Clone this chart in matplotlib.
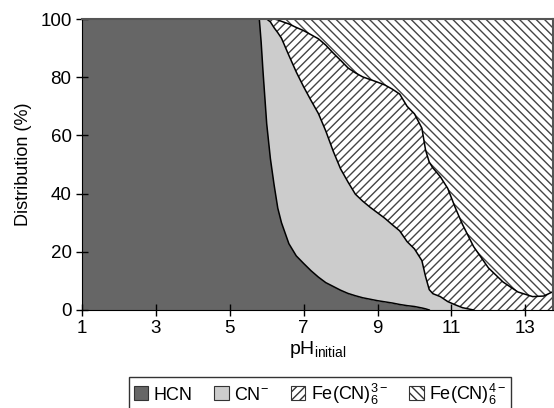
import numpy as np
import matplotlib.pyplot as plt
from matplotlib.patches import Patch

plt.rcParams['font.family'] = ['Liberation Sans', 'DejaVu Sans']
plt.rcParams['mathtext.fontset'] = 'custom'
plt.rcParams['mathtext.rm'] = 'Liberation Sans'
plt.rcParams['mathtext.it'] = 'Liberation Sans:italic'
plt.rcParams['hatch.linewidth'] = 1.0

# pH grid and species distribution (%)
ph = [1, 5.8, 5.85, 5.9, 6.0, 6.1, 6.2, 6.3, 6.4, 6.6, 6.8, 7.0, 7.2, 7.4, 7.6, 7.8,
      8.0, 8.2, 8.4, 8.6, 8.8, 9.0, 9.2, 9.4, 9.6, 9.8, 10.0, 10.2, 10.3, 10.4, 10.5,
      10.7, 10.9, 11.1, 11.3, 11.6, 12.0, 12.4, 12.8, 13.2, 13.5, 13.75]
hcn = [100, 100, 92, 82, 64, 52, 43, 35, 30, 22.8, 18.6, 16, 13.5, 11.3, 9.4, 8.1,
       6.8, 5.7, 4.9, 4.2, 3.7, 3.2, 2.8, 2.4, 1.9, 1.5, 1.2, 0.7, 0.4, 0, 0,
       0, 0, 0, 0, 0, 0, 0, 0, 0, 0, 0]
cn = [0, 0, 8, 18, 36, 47, 54, 60.3, 63.4, 64.7, 63.2, 60.7, 58.5, 56.2, 52.1, 46.5,
      41.7, 38.3, 34.9, 33.2, 31.6, 30.2, 28.7, 26.9, 25.3, 22, 19.8, 16.3, 11.1, 7, 5.6,
      4.6, 2.9, 1.8, 0.8, 0, 0, 0, 0, 0, 0, 0]
fe3 = [0, 0, 0, 0, 0, 1, 3, 4.4, 5.8, 10.8, 15.3, 19.3, 22.6, 25.7, 29.5, 33.7,
       37.3, 39.2, 41.7, 42.7, 43.9, 44.9, 45.8, 46.6, 47, 46.5, 46.4, 45.5, 43.5, 43.8, 43.2,
       41.2, 38.9, 33.5, 28.6, 21.8, 14.5, 9.6, 6.2, 4.6, 4.8, 6.3]
fe4 = [0, 0, 0, 0, 0, 0, 0, 0.3, 0.8, 1.7, 2.9, 4, 5.4, 6.8, 9, 11.7,
       14.2, 16.8, 18.5, 19.9, 20.8, 21.7, 22.7, 24.1, 25.8, 30, 32.6, 37.5, 45, 49.2, 51.2,
       54.2, 58.2, 64.7, 70.6, 78.2, 85.5, 90.4, 93.8, 95.4, 95.2, 93.7]

labels = ['HCN', 'CN$^{\\mathrm{-}}$', 'Fe(CN)$_6^{3-}$', 'Fe(CN)$_6^{4-}$']
colors = ['#666666', '#cccccc', 'white', 'white']
hatches = [None, None, '////', '\\\\\\\\']

fig = plt.figure(figsize=(5.54, 4.08), dpi=100)
ax = fig.add_axes([82 / 554, 98 / 408, 471 / 554, 291 / 408])

x = np.array(ph)
series = [np.array(hcn), np.array(cn), np.array(fe3), np.array(fe4)]
bottom = np.zeros_like(x)
for vals, col, h in zip(series, colors, hatches):
    top = bottom + vals
    ax.fill_between(x, bottom, top, facecolor=col, edgecolor='#444444',
                    hatch=h, linewidth=0)
    bottom = top

# boundary lines between the bands
cum = np.zeros_like(x)
for vals in series[:3]:
    cum = cum + vals
    inside = (cum > 0.01) & (cum < 99.99)
    keep = inside.copy()
    keep[1:] |= inside[:-1]
    keep[:-1] |= inside[1:]
    ax.plot(x[keep], cum[keep], color='black', lw=1.1)

ax.set_xlim(1, 13.75)
ax.set_ylim(0, 100)
ax.set_xticks([1, 3, 5, 7, 9, 11, 13])
ax.set_yticks([0, 20, 40, 60, 80, 100])
ax.tick_params(direction='inout', length=9, width=1, labelsize=13.5, pad=3)
for s in ['top', 'right']:
    ax.spines[s].set_color('#555555')
    ax.spines[s].set_linewidth(1.5)
for s in ['left', 'bottom']:
    ax.spines[s].set_color('black')
ax.set_ylabel('Distribution (%)', fontsize=13, labelpad=6)
ax.set_xlabel('pH$_{\\mathrm{initial}}$', fontsize=14, labelpad=1)

handles = [Patch(facecolor=c, edgecolor='#333333', hatch=h, lw=0.8)
           for c, h in zip(colors, hatches)]
fig.legend(handles, labels, ncol=4, loc='center', bbox_to_anchor=(320 / 554, 1 - 394 / 408),
           fontsize=13, frameon=True, fancybox=False, edgecolor='black',
           handlelength=0.8, handleheight=0.8, handletextpad=0.3, columnspacing=1.2,
           borderpad=0.25, borderaxespad=0)

fig.savefig('out.png', dpi=100)
